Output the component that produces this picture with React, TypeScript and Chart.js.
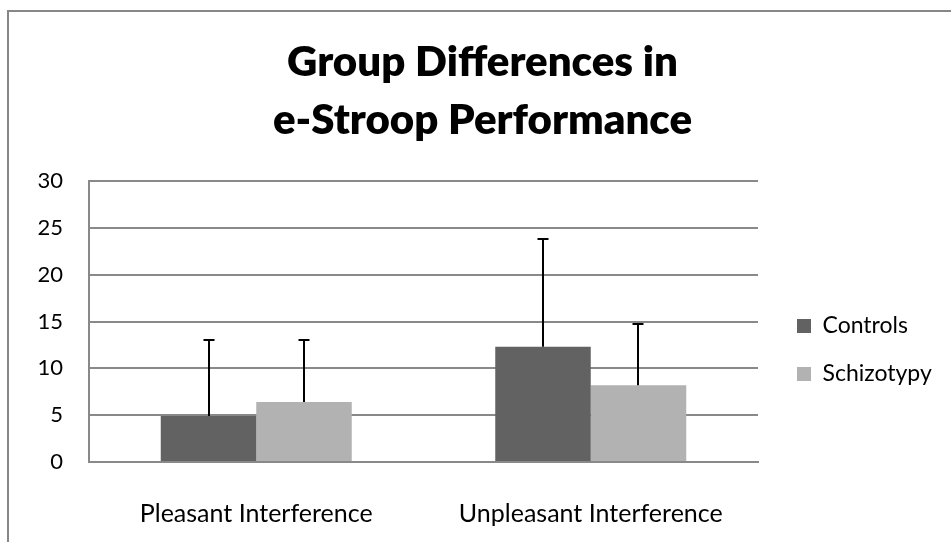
import React, { useEffect, useRef } from 'react';
import { Chart, registerables } from 'chart.js';

Chart.register(...registerables);

// ---- data ----
const categories = ['Pleasant Interference', 'Unpleasant Interference'];
const seriesNames = ['Controls', 'Schizotypy'];
const controlsMeans = [4.9, 12.3];
const controlsErrors = [8.1, 11.5];
const schizotypyMeans = [6.4, 8.2];
const schizotypyErrors = [6.6, 6.5];
const yTickValues = [0, 5, 10, 15, 20, 25, 30];
const titleLines = ['Group Differences in', 'e-Stroop Performance'];

// ---- styles ----
const FONT = 'Lato, "Open Sans", "Noto Sans", sans-serif';
const GRID = '#898989';
const COLORS = ['#626262', '#b2b2b2'];
const errorsBySeries = [controlsErrors, schizotypyErrors];

const errorBarPlugin = {
  id: 'errorBars',
  afterDatasetsDraw(chart: any) {
    const { ctx } = chart;
    const y = chart.scales.y;
    ctx.save();
    ctx.strokeStyle = '#000';
    ctx.lineWidth = 2;
    chart.data.datasets.forEach((ds: any, i: number) => {
      const meta = chart.getDatasetMeta(i);
      const errs = errorsBySeries[i];
      meta.data.forEach((bar: any, j: number) => {
        const x = Math.round(bar.x);
        const yBase = y.getPixelForValue(ds.data[j]);
        const yTop = Math.round(y.getPixelForValue(ds.data[j] + errs[j]));
        ctx.beginPath();
        ctx.moveTo(x, yBase);
        ctx.lineTo(x, yTop);
        ctx.moveTo(x - 5.5, yTop);
        ctx.lineTo(x + 5.5, yTop);
        ctx.stroke();
      });
    });
    ctx.restore();
  },
};

const legendPlacePlugin = {
  id: 'legendPlace',
  afterLayout(chart: any) {
    const lg = chart.legend;
    if (!lg) return;
    lg.left = 772;
    lg.right = 951;
    lg.width = 179;
    lg.top = 289.5;
    lg.bottom = 489.5;
    lg.height = 200;
  },
};

export default function App() {
  const canvasRef = useRef<HTMLCanvasElement | null>(null);

  useEffect(() => {
    if (!canvasRef.current) return;
    const chart = new Chart(canvasRef.current, {
      type: 'bar',
      data: {
        labels: categories,
        datasets: [
          {
            label: seriesNames[0],
            data: controlsMeans,
            backgroundColor: COLORS[0],
            borderWidth: 0,
            categoryPercentage: 0.571,
            barPercentage: 1.0,
          },
          {
            label: seriesNames[1],
            data: schizotypyMeans,
            backgroundColor: COLORS[1],
            borderWidth: 0,
            categoryPercentage: 0.571,
            barPercentage: 1.0,
          },
        ],
      },
      options: {
        responsive: false,
        animation: false,
        layout: { padding: { left: 14, right: 0, top: 0, bottom: 0 } },
        plugins: {
          title: {
            display: true,
            text: titleLines,
            color: '#000',
            font: { family: FONT, size: 42, weight: '800', lineHeight: 58.5 / 42 },
            padding: { top: 33, bottom: 31 },
          },
          legend: {
            display: true,
            position: 'chartArea',
            align: 'start',
            labels: {
              color: '#000',
              font: { family: FONT, size: 23 },
              boxWidth: 14,
              boxHeight: 14,
              padding: 25,
            },
          },
          tooltip: { enabled: false },
        },
        scales: {
          x: {
            grid: { display: false, drawTicks: false },
            border: { display: true, color: GRID, width: 2 },
            ticks: { color: '#000', font: { family: FONT, size: 25 }, padding: 37 },
            afterFit: (s: any) => {
              s.height = 80;
            },
          },
          y: {
            min: 0,
            max: 30,
            afterBuildTicks: (s: any) => {
              s.ticks = yTickValues.map((v) => ({ value: v }));
            },
            ticks: { color: '#000', font: { family: FONT, size: 22 }, padding: 26 },
            grid: { color: GRID, lineWidth: 2, drawTicks: false },
            border: { color: GRID, width: 2 },
            afterFit: (s: any) => {
              s.width = 75;
            },
          },
          yRight: {
            position: 'right',
            display: true,
            grid: { display: false, drawTicks: false },
            border: { display: false },
            ticks: { display: false },
            afterFit: (s: any) => {
              s.width = 193;
            },
          },
        },
      } as any,
      plugins: [errorBarPlugin, legendPlacePlugin],
    });
    return () => chart.destroy();
  }, []);

  return (
    <div
      style={{
        position: 'absolute',
        left: 0,
        top: 0,
        width: 951,
        height: 542,
        overflow: 'hidden',
        background: '#fff',
      }}
    >
      <div
        style={{
          position: 'absolute',
          left: 7,
          top: 10,
          width: 960,
          height: 560,
          borderLeft: '2px solid #878787',
          borderTop: '2px solid #878787',
        }}
      />
      <canvas
        ref={canvasRef}
        width={951}
        height={542}
        style={{ position: 'absolute', left: 0, top: 0 }}
      />
    </div>
  );
}
